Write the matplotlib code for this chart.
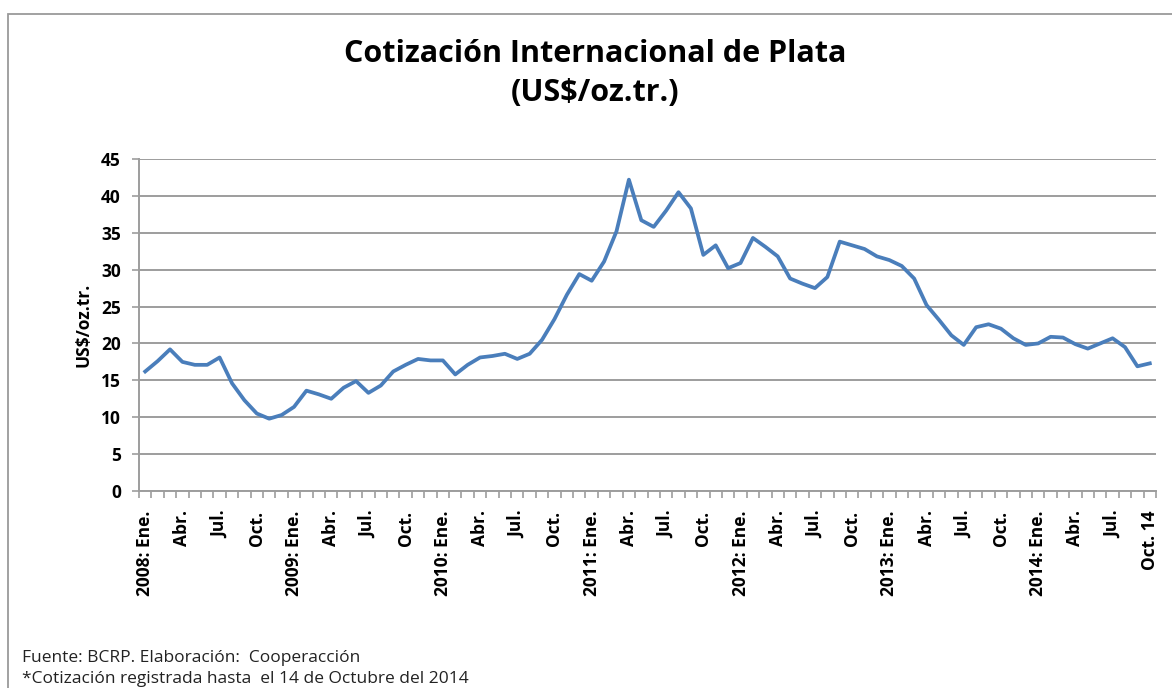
import matplotlib
matplotlib.use("Agg")
import matplotlib.pyplot as plt
from matplotlib.patches import Rectangle

# ---- data ----
years = [2008, 2009, 2010, 2011, 2012, 2013, 2014]
month_names = ["Ene.", "Feb.", "Mar.", "Abr.", "May.", "Jun.",
               "Jul.", "Ago.", "Set.", "Oct.", "Nov.", "Dic."]
price = [
    # 2008
    16.2, 17.6, 19.2, 17.5, 17.1, 17.1, 18.1, 14.6, 12.3, 10.5, 9.8, 10.3,
    # 2009
    11.4, 13.6, 13.1, 12.5, 14.0, 14.9, 13.3, 14.3, 16.2, 17.1, 17.9, 17.7,
    # 2010
    17.7, 15.8, 17.1, 18.1, 18.3, 18.6, 17.9, 18.6, 20.5, 23.3, 26.6, 29.4,
    # 2011
    28.5, 31.1, 35.2, 42.2, 36.7, 35.8, 38.0, 40.5, 38.3, 32.0, 33.3, 30.2,
    # 2012
    30.9, 34.3, 33.1, 31.8, 28.8, 28.1, 27.5, 29.0, 33.8, 33.3, 32.8, 31.8,
    # 2013
    31.3, 30.5, 28.8, 25.2, 23.2, 21.1, 19.8, 22.2, 22.6, 22.0, 20.7, 19.8,
    # 2014 (hasta Oct. 14)
    20.0, 20.9, 20.8, 19.9, 19.3, 20.0, 20.7, 19.5, 16.9, 17.3,
]

# tick labels every 3 months
labels = []
n = len(price)
for i in range(n):
    y = years[i // 12]
    m = i % 12
    if i == n - 1:
        labels.append("Oct. 14")
    elif m == 0:
        labels.append(f"{y}: {month_names[m]}")
    else:
        labels.append(month_names[m])
label_pos = list(range(0, n, 3))
label_txt = [labels[i] for i in label_pos]

FONT = "Open Sans"
plt.rcParams["font.family"] = [FONT, "DejaVu Sans"]

W, H = 1172, 688
fig = plt.figure(figsize=(W / 100, H / 100), dpi=100)

# frame (top and left visible)
fig.patches.append(Rectangle((8 / W, -0.1), 1.2, 1 - 14 / H + 0.1,
                             transform=fig.transFigure, fill=False,
                             edgecolor="#9a9a9a", linewidth=1.3))

ax = fig.add_axes([139 / W, 1 - 491 / H, (1156 - 139) / W, (491 - 159) / H])

grid_c = "#9d9d9d"
ax.set_ylim(0, 45)
ax.set_xlim(-0.5, n - 0.5)
ax.set_yticks(range(0, 46, 5))
ax.yaxis.grid(True, color=grid_c, linewidth=1.4)
ax.set_axisbelow(True)

ax.plot(range(n), price, color="#4a7ebb", linewidth=2.7, solid_joinstyle="round")

for s in ["top", "right"]:
    ax.spines[s].set_visible(False)
ax.spines["left"].set_color(grid_c)
ax.spines["bottom"].set_color(grid_c)
ax.spines["left"].set_linewidth(1.4)
ax.spines["bottom"].set_linewidth(1.4)

# major ticks at category boundaries, labels at category centres
ax.set_xticks([i - 0.5 for i in range(n + 1)])
ax.set_xticklabels([])
ax.tick_params(axis="x", which="major", length=5, color=grid_c, width=1.2, direction="out")
ax.set_xticks(label_pos, minor=True)
ax.set_xticklabels(label_txt, minor=True, rotation=90, fontsize=12.5,
                   fontweight="bold", va="top", ha="center")
ax.tick_params(axis="x", which="minor", length=0, pad=14)

ax.tick_params(axis="y", length=5, color=grid_c, width=1.2, labelsize=12.5, pad=8)
for t in ax.get_yticklabels():
    t.set_fontweight("bold")

ax.set_ylabel("US$/oz.tr.", fontsize=12.5, fontweight="bold", labelpad=6)

fig.text(595 / W, 1 - 62 / H, "Cotización Internacional de Plata",
         ha="center", va="baseline", fontsize=22, fontweight="bold")
fig.text(595 / W, 1 - 101 / H, "(US$/oz.tr.)",
         ha="center", va="baseline", fontsize=22, fontweight="bold")

fig.text(22 / W, 1 - 662 / H, "Fuente: BCRP. Elaboración:  Cooperacción",
         ha="left", va="baseline", fontsize=12.5, color="#222222")
fig.text(22 / W, 1 - 683 / H, "*Cotización registrada hasta  el 14 de Octubre del 2014",
         ha="left", va="baseline", fontsize=12.5, color="#222222")

fig.savefig("out.png", dpi=100)
